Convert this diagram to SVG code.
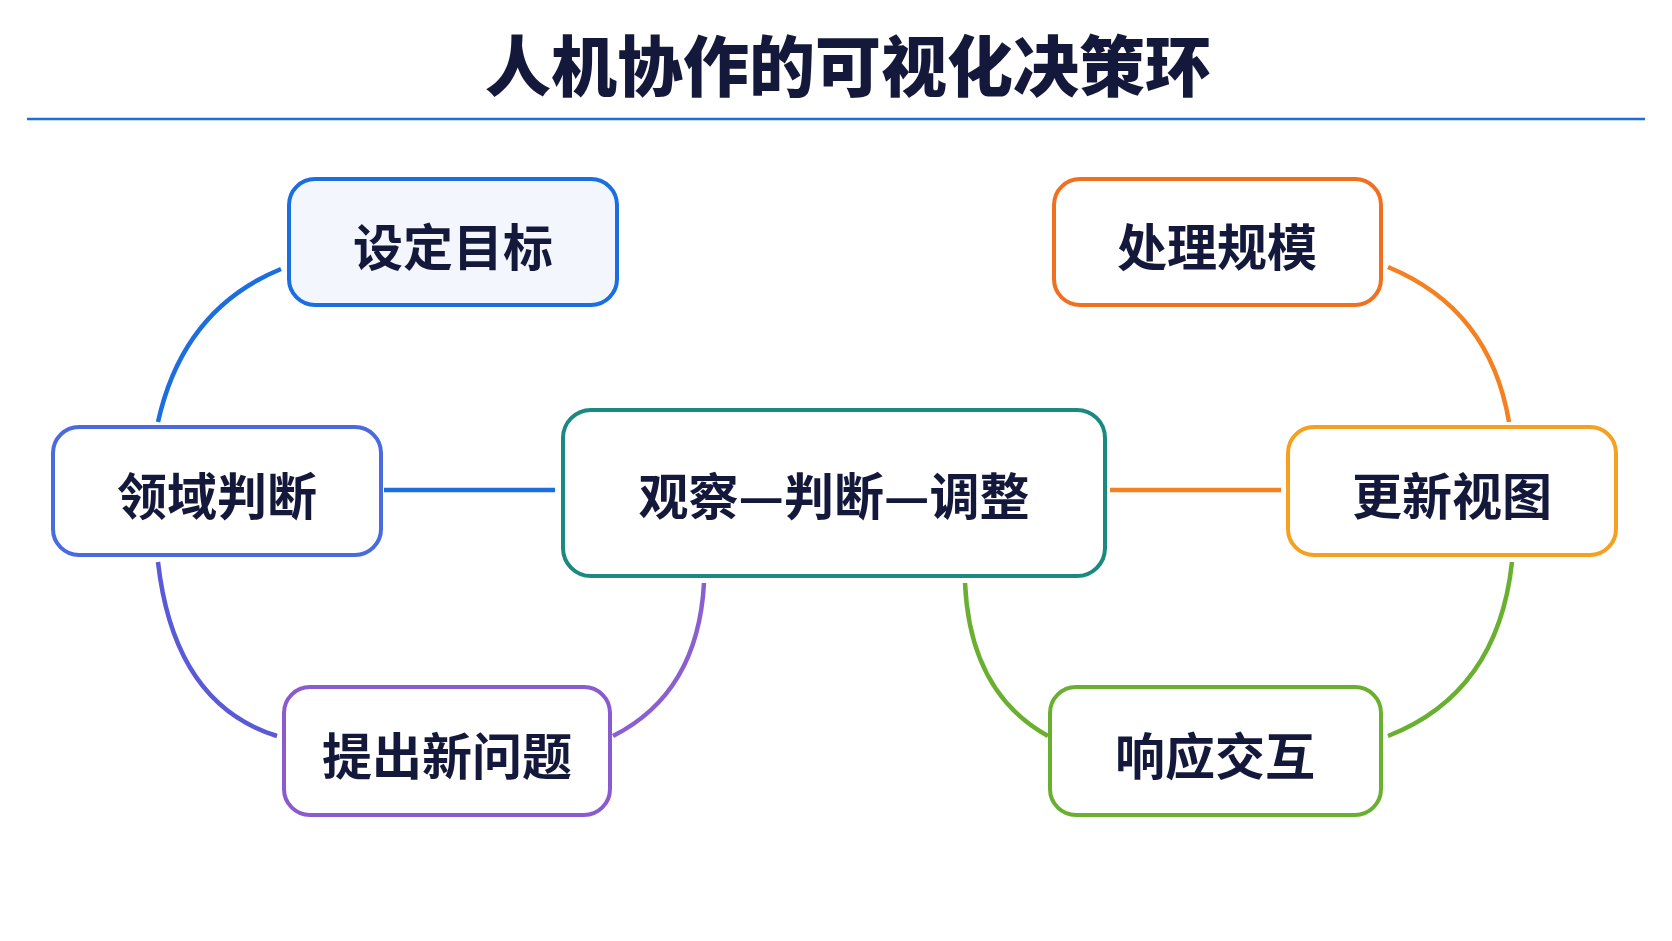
<svg xmlns="http://www.w3.org/2000/svg" width="1672" height="941" viewBox="0 0 1672 941">
<style>
text{font-family:"Noto Sans CJK SC","Noto Sans",sans-serif;font-weight:700;fill:#14183a;text-anchor:middle;dominant-baseline:central}
.t{font-size:50px}
rect{stroke-width:4;fill:#fff}
path{fill:none;stroke-width:4.5}
</style>
<defs>
<marker id="mb" viewBox="0 0 10 10" refX="8" refY="5" markerWidth="5" markerHeight="5" orient="auto-start-reverse"><path d="M0,0L10,5L0,10L3,5Z" fill="#1a6ee0" stroke="none"/></marker>
<marker id="mi" viewBox="0 0 10 10" refX="8" refY="5" markerWidth="5" markerHeight="5" orient="auto-start-reverse"><path d="M0,0L10,5L0,10L3,5Z" fill="#5a5ad8" stroke="none"/></marker>
<marker id="mp" viewBox="0 0 10 10" refX="8" refY="5" markerWidth="5" markerHeight="5" orient="auto-start-reverse"><path d="M0,0L10,5L0,10L3,5Z" fill="#8a60d0" stroke="none"/></marker>
<marker id="mo" viewBox="0 0 10 10" refX="8" refY="5" markerWidth="5" markerHeight="5" orient="auto-start-reverse"><path d="M0,0L10,5L0,10L3,5Z" fill="#f58020" stroke="none"/></marker>
<marker id="mg" viewBox="0 0 10 10" refX="8" refY="5" markerWidth="5" markerHeight="5" orient="auto-start-reverse"><path d="M0,0L10,5L0,10L3,5Z" fill="#6ab030" stroke="none"/></marker>
</defs>
<rect width="1672" height="941" fill="#fff" stroke="none"/>
<text x="848" y="62" style="font-size:66px;font-weight:900">人机协作的可视化决策环</text>
<line x1="27" y1="119" x2="1645" y2="119" stroke="#1a6ee0" stroke-width="2.5"/>
<g id="connectors">
<path d="M281,269 Q183,309 158,422" stroke="#1a6ee0" marker-start="url(#mb)" marker-end="url(#mb)"/>
<path d="M158,562 Q174,704 277,736" stroke="#5a5ad8" marker-start="url(#mi)" marker-end="url(#mi)"/>
<path d="M613,736 Q698,693 704,583" stroke="#8a60d0" marker-end="url(#mp)"/>
<path d="M384,490 L555,490" stroke="#1a6ee0" marker-end="url(#mb)"/>
<path d="M1110,490 L1281,490" stroke="#f58020" marker-end="url(#mo)"/>
<path d="M1388,267 Q1490,309 1509,422" stroke="#f58020" marker-start="url(#mo)" marker-end="url(#mo)"/>
<path d="M1512,562 Q1498,693 1388,736" stroke="#6ab030" marker-start="url(#mg)" marker-end="url(#mg)"/>
<path d="M1048,736 Q970,693 965,583" stroke="#6ab030" marker-end="url(#mg)"/>
</g>
<g id="n1"><rect x="289" y="179" width="328" height="126" rx="26" stroke="#1a6ee0" style="fill:#f3f7fd"/><text class="t" x="453" y="244">设定目标</text></g>
<g id="n2"><rect x="1054" y="179" width="327" height="126" rx="26" stroke="#f07020"/><text class="t" x="1217" y="244">处理规模</text></g>
<g id="n3"><rect x="53" y="427" width="328" height="128" rx="26" stroke="#4a6ae0"/><text class="t" x="217" y="493">领域判断</text></g>
<g id="n4"><rect x="563" y="410" width="542" height="166" rx="28" stroke="#1a8a80"/><text class="t" x="834" y="493">观察—判断—调整</text></g>
<g id="n5"><rect x="1288" y="427" width="328" height="128" rx="26" stroke="#f5a020"/><text class="t" x="1452" y="493">更新视图</text></g>
<g id="n6"><rect x="284" y="687" width="326" height="128" rx="26" stroke="#8a5ad0"/><text class="t" x="447" y="753">提出新问题</text></g>
<g id="n7"><rect x="1050" y="687" width="331" height="128" rx="26" stroke="#6ab030"/><text class="t" x="1215" y="753">响应交互</text></g>
</svg>
